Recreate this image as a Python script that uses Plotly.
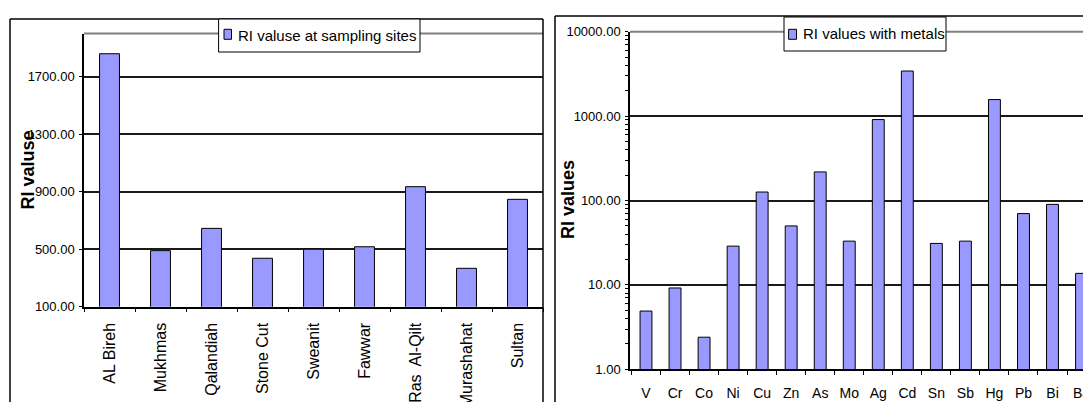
import plotly.graph_objects as go

# RI values per sampling site
sites = ["AL Bireh", "Mukhmas", "Qalandiah", "Stone Cut", "Sweanit",
         "Fawwar", "Ras  Al-Qilt", "Murashahat", "Sultan"]
ri_sites = [1860, 490, 645, 437, 500, 517, 935, 367, 847]
site_ticks = [100, 500, 900, 1300, 1700]

# RI values per metal
metals = ["V", "Cr", "Co", "Ni", "Cu", "Zn", "As", "Mo", "Ag", "Cd",
          "Sn", "Sb", "Hg", "Pb", "Bi", "Ba"]
ri_metals = [4.9, 9.2, 2.4, 28.8, 126, 50, 218, 33, 910, 3420,
             31, 33, 1570, 70, 90, 13.7]

W, H = 1083, 402
SANS = "Liberation Sans, Arial"
BAR_FILL = "#9999FF"


def px(x):
    return x / W


def py(y):
    return 1 - y / H


fig = go.Figure()
fig.add_trace(go.Bar(x=sites, y=ri_sites, width=0.39, name="RI valuse at sampling sites",
                     marker=dict(color=BAR_FILL, line=dict(color="black", width=1)),
                     xaxis="x", yaxis="y", showlegend=False))
fig.add_trace(go.Bar(x=metals, y=ri_metals, width=0.41, name="RI values with metals",
                     marker=dict(color=BAR_FILL, line=dict(color="black", width=1)),
                     xaxis="x2", yaxis="y2", showlegend=False))

common_x = dict(type="category", tickson="boundaries", ticks="outside", ticklen=4,
                tickcolor="black", showline=True, linecolor="black", linewidth=1.5,
                showgrid=False, zeroline=False, fixedrange=True, automargin=False)
common_y = dict(ticks="outside", ticklen=3, tickcolor="black", showline=True,
                linecolor="black", linewidth=1.5, gridcolor="#1a1a1a", gridwidth=1.5,
                zeroline=False, fixedrange=True, tickformat=".2f", automargin=False,
                tickfont=dict(family=SANS, size=13, color="black"))

left_cats = len(sites)

fig.update_layout(
    template="none",
    width=W, height=H,
    margin=dict(l=0, r=0, t=0, b=0, pad=0),
    paper_bgcolor="white", plot_bgcolor="white",
    showlegend=False,
    xaxis=dict(domain=[px(84), px(543)], anchor="y", range=[-0.5, left_cats - 0.5],
               tickangle=-90, ticklabelstandoff=8,
               tickfont=dict(family=SANS, size=16, color="black"), **common_x),
    yaxis=dict(domain=[py(306.7), py(33.6)], anchor="x", range=[100, 2000],
               tickvals=site_ticks, ticklabelstandoff=2, **common_y),
    xaxis2=dict(domain=[px(630), 1], anchor="y2", range=[-0.551, 15.05],
                tickangle=0, ticklabelstandoff=10,
                tickfont=dict(family=SANS, size=14, color="black"), **common_x),
    yaxis2=dict(domain=[py(369.3), py(31.7)], anchor="x2", type="log", range=[0, 4],
                dtick=1, ticklabelstandoff=2,
                minor=dict(tickvals=[m * 10 ** d for d in range(4) for m in range(2, 10)],
                           ticks="outside", ticklen=3, tickcolor="black", showgrid=False),
                **common_y),
)

shapes = []


def line(x0, y0, x1, y1, color="black", width=1.5):
    shapes.append(dict(type="line", xref="paper", yref="paper",
                       x0=px(x0), y0=py(y0), x1=px(x1), y1=py(y1),
                       line=dict(color=color, width=width)))


def rect(x0, y0, x1, y1, fill, color="black", width=1):
    shapes.append(dict(type="rect", xref="paper", yref="paper",
                       x0=px(x0), y0=py(y0), x1=px(x1), y1=py(y1),
                       fillcolor=fill, line=dict(color=color, width=width)))


# left chart frame
line(84, 33.6, 543, 33.6, color="#808080", width=2)
line(10, 19, 543, 19)
line(10, 19, 10, 410)
line(543, 19, 543, 410)
# right chart frame
line(630, 31.7, 1090, 31.7, color="#808080", width=2)
line(555, 16, 1090, 16)
line(555, 16, 555, 410)

# legend boxes with swatches
rect(218.6, 19, 420, 52, "white")
rect(224, 29.3, 231.5, 39.3, BAR_FILL)
rect(784, 17, 946, 51, "white")
rect(788.6, 29.3, 796.5, 39.3, BAR_FILL)

annotations = [
    dict(text="RI valuse at sampling sites", x=px(236), y=py(35), xref="paper", yref="paper",
         xanchor="left", yanchor="middle", showarrow=False,
         font=dict(family=SANS, size=15, color="black")),
    dict(text="RI values with metals", x=px(801), y=py(34), xref="paper", yref="paper",
         xanchor="left", yanchor="middle", showarrow=False,
         font=dict(family=SANS, size=15, color="black")),
    dict(text="<b>RI valuse</b>", x=px(27.5), y=py(170), xref="paper", yref="paper",
         xanchor="center", yanchor="middle", textangle=-90, showarrow=False,
         font=dict(family=SANS, size=18, color="black")),
    dict(text="<b>RI values</b>", x=px(568), y=py(200), xref="paper", yref="paper",
         xanchor="center", yanchor="middle", textangle=-90, showarrow=False,
         font=dict(family=SANS, size=18, color="black")),
]

fig.update_layout(shapes=shapes, annotations=annotations)
fig.write_html("out.html", config={"displayModeBar": False})
